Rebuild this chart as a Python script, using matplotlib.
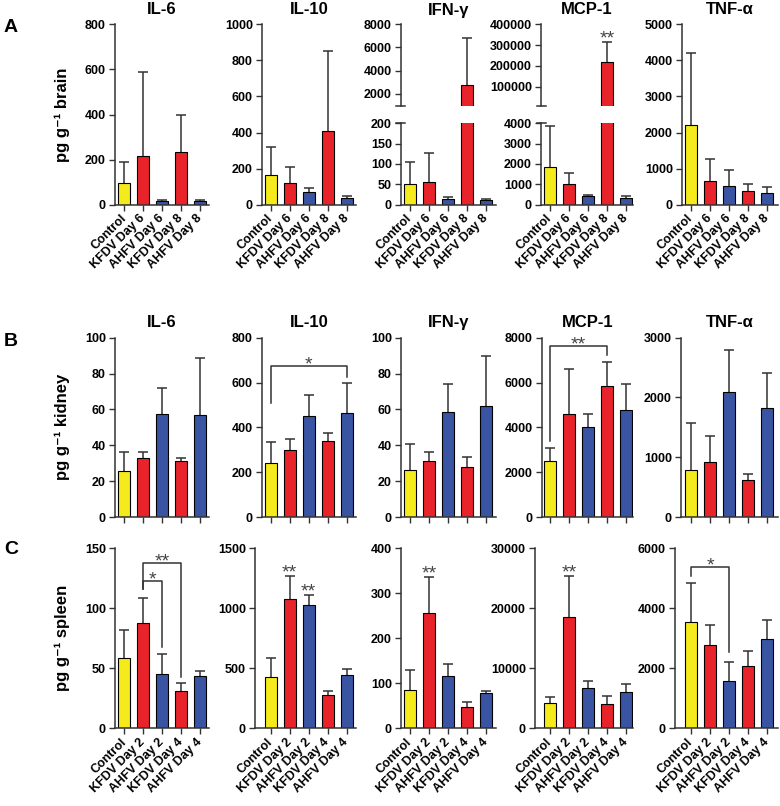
import numpy as np
import matplotlib
matplotlib.use('Agg')
import matplotlib.pyplot as plt

plt.rcParams['font.family'] = ['Liberation Sans', 'DejaVu Sans']
plt.rcParams['font.weight'] = 'bold'

# ---------------- data ----------------
cytokines = ['IL-6', 'IL-10', 'IFN-γ', 'MCP-1', 'TNF-α']
groups_brain = ['Control', 'KFDV Day 6', 'AHFV Day 6', 'KFDV Day 8', 'AHFV Day 8']
groups_kidney = ['Control', 'KFDV Day 6', 'AHFV Day 6', 'KFDV Day 8', 'AHFV Day 8']
groups_spleen = ['Control', 'KFDV Day 2', 'AHFV Day 2', 'KFDV Day 4', 'AHFV Day 4']
bar_colors = ['#F4EA1C', '#E8232A', '#3A54A4', '#E8232A', '#3A54A4']

brain_mean = [[95, 214, 18, 235, 15],
              [165, 122, 70, 410, 35],
              [52, 55, 15, 2770, 11],
              [1870, 1000, 443, 219000, 344],
              [2209, 655, 510, 375, 330]]
brain_sd = [[93, 375, 4, 163, 4],
            [155, 89, 21, 444, 13],
            [54, 73, 5, 4090, 3],
            [2015, 540, 32, 96000, 99],
            [2005, 622, 442, 188, 160]]

kidney_mean = [[25.6, 33, 57.5, 31, 57],
               [239, 301, 451, 338, 463],
               [26.3, 31.5, 58.8, 27.8, 62],
               [2507, 4614, 4036, 5831, 4763],
               [790, 924, 2092, 623, 1820]]
kidney_sd = [[10.4, 3, 14.3, 1.8, 31.7],
             [96, 45, 94, 39, 134],
             [14.3, 5, 15.2, 5.4, 27.6],
             [593, 1988, 564, 1069, 1187],
             [779, 439, 708, 95, 584]]

spleen_mean = [[58.8, 88, 45.5, 31, 43.6],
               [425, 1080, 1028, 275, 444],
               [85, 255.5, 116, 47.4, 78.5],
               [4167, 18500, 6667, 4056, 6000],
               [3544, 2789, 1567, 2089, 2967]]
spleen_sd = [[23.2, 21, 16.2, 6.5, 4.2],
             [164, 189, 86, 36, 53],
             [44, 80.5, 28, 11.1, 4.5],
             [1000, 6833, 1166, 1277, 1333],
             [1289, 667, 655, 489, 644]]

# axis ranges (max, tick step); None = broken axis
brain_axis = [(800, 200), (1000, 200), None, None, (5000, 1000)]
kidney_axis = [(100, 20), (800, 200), (100, 20), (8000, 2000), (3000, 1000)]
spleen_axis = [(150, 50), (1500, 500), (400, 100), (30000, 10000), (6000, 2000)]
# broken axes: (lower max, lower step, upper min, upper max, upper step)
brain_broken = {2: (200, 50, 1000, 8000, 2000),
                3: (4000, 1000, 10000, 400000, 100000)}

# significance marks above single bars: (row, cytokine, bar, label)
single_stars = [(0, 3, 3, '**'), (2, 1, 1, '**'), (2, 1, 2, '**'),
                (2, 2, 1, '**'), (2, 3, 1, '**')]
# brackets: (row, cytokine, bar i, bar j, y top, y left end, y right end, label)
brackets = [(1, 1, 0, 4, 674, 507, 626, '*'),
            (1, 3, 0, 3, 7640, 3400, 7225, '**'),
            (2, 0, 1, 3, 138, 116, 43, '**'),
            (2, 0, 1, 2, 122.8, 116, 67.5, '*'),
            (2, 4, 0, 2, 5367, 5078, 2556, '*')]

# ---------------- layout (pixels) ----------------
W, H = 780, 806
fig = plt.figure(figsize=(W / 100, H / 100), dpi=100)
SP = '#333333'
ECOL = '#333333'
STARC = '#444444'

first_center = [124.3, 270.7, 410, 550, 691]
spacing = 19.0
axis_x = [[115, 262, 401, 541, 682],
          [115, 262, 401, 542, 681],
          [115, 255, 401, 535, 675]]
right_end = [209, 356, 496, 633, 778]
row_y = [(24.3, 204.7), (337.7, 517), (548.3, 728.3)]
title_y = [10, 323]
ylabels = ['pg g⁻¹ brain', 'pg g⁻¹ kidney', 'pg g⁻¹ spleen']
letters = ['A', 'B', 'C']
letter_y = [27, 342, 549]


def add_ax(x0, x1, ytop, ybot):
    return fig.add_axes([x0 / W, 1 - ybot / H, (x1 - x0) / W, (ybot - ytop) / H])


def xlims(r, c):
    lo = -(first_center[c] - axis_x[r][c]) / spacing
    hi = 4 + (right_end[c] - (first_center[c] + 4 * spacing)) / spacing
    return lo, hi


def style(ax, bottom=True):
    ax.spines['top'].set_visible(False)
    ax.spines['right'].set_visible(False)
    for s in ['left', 'bottom']:
        ax.spines[s].set_color(SP)
        ax.spines[s].set_linewidth(1.1)
    if not bottom:
        ax.spines['bottom'].set_visible(False)
        ax.tick_params(axis='x', bottom=False, labelbottom=False)
    ax.tick_params(direction='out', length=4.5, width=1.0, color=SP,
                   labelsize=9, pad=2)
    ax.set_facecolor('none')


def draw_bars(ax, means, sds):
    x = np.arange(len(means))
    m = np.array(means, dtype=float)
    top = m + np.array(sds, dtype=float)
    ax.vlines(x, m, top, color=ECOL, lw=1.1, zorder=1)
    ax.hlines(top, x - 0.27, x + 0.27, color=ECOL, lw=1.1, zorder=1)
    ax.bar(x, m, width=0.65, color=bar_colors, edgecolor='black',
           linewidth=0.8, zorder=2)


def set_xlabels(ax, r, groups):
    ax.set_xticks(np.arange(5))
    if r == 1:
        ax.set_xticklabels([])
    else:
        ax.set_xticklabels(groups, rotation=45, ha='right', va='center',
                           rotation_mode='anchor', fontsize=9)
        ax.tick_params(axis='x', pad=4)


means_all = [brain_mean, kidney_mean, spleen_mean]
sds_all = [brain_sd, kidney_sd, spleen_sd]
axis_all = [brain_axis, kidney_axis, spleen_axis]
groups_all = [groups_brain, groups_kidney, groups_spleen]
axes_map = {}

for r in range(3):
    ytop, ybot = row_y[r]
    for c in range(5):
        lo, hi = xlims(r, c)
        x0 = axis_x[r][c]
        x1 = right_end[c]
        if r == 0 and c in brain_broken:
            lmax, lstep, umin, umax, ustep = brain_broken[c]
            up = add_ax(x0, x1, ytop, 105.5)
            low = add_ax(x0, x1, 123.3, ybot)
            for ax in (up, low):
                draw_bars(ax, means_all[r][c], sds_all[r][c])
                ax.set_xlim(lo, hi)
            up.set_ylim(umin, umax)
            up.set_yticks(np.arange(ustep, umax + 1, ustep))
            low.set_ylim(0, lmax)
            low.set_yticks(np.arange(0, lmax + 1, lstep))
            style(up, bottom=False)
            style(low)
            set_xlabels(low, r, groups_all[r])
            d = 4.5 / (x1 - x0)
            up.plot([-d, d], [0, 0], transform=up.transAxes, color=SP,
                    lw=1.1, clip_on=False)
            low.plot([-d, d], [1, 1], transform=low.transAxes, color=SP,
                     lw=1.1, clip_on=False)
            axes_map[(r, c)] = up
        else:
            ax = add_ax(x0, x1, ytop, ybot)
            draw_bars(ax, means_all[r][c], sds_all[r][c])
            ymax, step = axis_all[r][c]
            ax.set_xlim(lo, hi)
            ax.set_ylim(0, ymax)
            ax.set_yticks(np.arange(0, ymax + 1, step))
            style(ax)
            set_xlabels(ax, r, groups_all[r])
            axes_map[(r, c)] = ax
        if r < 2:
            fig.text((x0 + x1) / 2 / W, 1 - title_y[r] / H, cytokines[c],
                     fontsize=12, fontweight='bold', ha='center', va='center')
    fig.text(62 / W, 1 - (ytop + ybot) / 2 / H, ylabels[r], rotation=90,
             fontsize=12, fontweight='bold', ha='center', va='center')
    fig.text(11 / W, 1 - letter_y[r] / H, letters[r], fontsize=14,
             fontweight='bold', ha='center', va='center')

for (r, c, b, lab) in single_stars:
    ax = axes_map[(r, c)]
    topv = means_all[r][c][b] + sds_all[r][c][b]
    ax.annotate(lab, xy=(b, topv), xytext=(0, -1), textcoords='offset points',
                ha='center', va='baseline', fontsize=14, color=STARC,
                fontweight='normal', annotation_clip=False)

for (r, c, i, j, yt, yl, yr, lab) in brackets:
    ax = axes_map[(r, c)]
    ax.plot([i, i, j, j], [yl, yt, yt, yr], color=SP, lw=1.1, clip_on=False)
    ax.annotate(lab, xy=((i + j) / 2, yt), xytext=(0, -2.5),
                textcoords='offset points', ha='center', va='baseline',
                fontsize=14, color=STARC, fontweight='normal',
                annotation_clip=False)

fig.savefig('out.png', dpi=100)
